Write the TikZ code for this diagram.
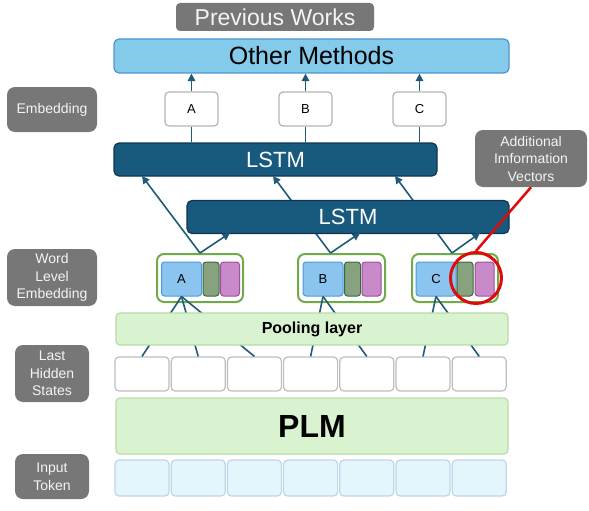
\documentclass[tikz,border=0pt]{standalone}
\usepackage{fontspec}
\setmainfont{Liberation Sans}
\usetikzlibrary{arrows.meta}

\definecolor{gris}{HTML}{777777}
\definecolor{blanco}{HTML}{F4F4F4}
\definecolor{celesteotros}{HTML}{83CAEB}
\definecolor{bordeotros}{HTML}{4E95D0}
\definecolor{lstm}{HTML}{185A7E}
\definecolor{bordelstm}{HTML}{0E3650}
\definecolor{azulflecha}{HTML}{1F5A7A}
\definecolor{bordecaja}{HTML}{B4B4B4}
\definecolor{verdegrupo}{HTML}{6FAB4A}
\definecolor{azul}{HTML}{8AC4EF}
\definecolor{bordeazul}{HTML}{4C9BDD}
\definecolor{verdevec}{HTML}{86A27F}
\definecolor{bordeverde}{HTML}{3C6A36}
\definecolor{rosa}{HTML}{C98AC9}
\definecolor{borderosa}{HTML}{A24CA2}
\definecolor{verdeplm}{HTML}{D9F2D0}
\definecolor{bordeplm}{HTML}{B7DCA7}
\definecolor{bordeoculto}{HTML}{BEBEBE}
\definecolor{celeste}{HTML}{E5F5FC}
\definecolor{bordetoken}{HTML}{BDD6E8}
\definecolor{rojo}{HTML}{E00A0A}

\tikzset{
  etiqueta/.style={fill=gris, text=blanco, rounded corners=8pt, inner sep=0pt,
    align=center, font=\fontsize{14}{17.5}\selectfont},
  caja/.style={draw=bordecaja, fill=white, line width=1.2pt, rounded corners=4pt,
    inner sep=0pt, minimum width=53pt, minimum height=34pt,
    font=\fontsize{13}{15}\selectfont},
  capa/.style={draw=bordelstm, fill=lstm, line width=1.2pt, rounded corners=5pt,
    inner sep=0pt, minimum width=322pt, minimum height=33pt, text=white,
    font=\fontsize{22}{26}\selectfont},
  grupo/.style={draw=verdegrupo, fill=white, line width=2pt, rounded corners=7pt,
    inner sep=0pt, minimum width=86pt, minimum height=48pt},
  vecazul/.style={draw=bordeazul, fill=azul, line width=1pt, rounded corners=3pt,
    inner sep=0pt, minimum width=40pt, minimum height=34pt,
    font=\fontsize{13}{15}\selectfont},
  vecverde/.style={draw=bordeverde, fill=verdevec, line width=1pt, rounded corners=3pt,
    inner sep=0pt, minimum width=16pt, minimum height=34pt},
  vecrosa/.style={draw=borderosa, fill=rosa, line width=1pt, rounded corners=3pt,
    inner sep=0pt, minimum width=19pt, minimum height=34pt},
  plm/.style={draw=bordeplm, fill=verdeplm, line width=1.2pt, rounded corners=4pt,
    inner sep=0pt, minimum width=392pt},
  oculto/.style={draw=bordeoculto, fill=white, line width=1.2pt, rounded corners=4pt,
    inner sep=0pt, minimum width=54pt, minimum height=34pt},
  token/.style={draw=bordetoken, fill=celeste, line width=1.2pt, rounded corners=4pt,
    inner sep=0pt, minimum width=54pt, minimum height=36pt},
  trazo/.style={draw=azulflecha, line width=1.6pt},
  flecha/.style={trazo, -{Triangle[length=7.5pt,width=7.5pt]}},
}

\begin{document}
\begin{tikzpicture}[x=1pt,y=-1pt]
        \useasboundingbox (0,0) rectangle (589,511);

        % Paso 1: Etiquetas grises de la izquierda
        \node[etiqueta, minimum width=90pt, minimum height=45pt] (lemb) at (52,109.5) {Embedding};
        \node[etiqueta, minimum width=90pt, minimum height=57pt] (lword) at (52,277.5) {Word\\Level\\Embedding};
        \node[etiqueta, minimum width=74pt, minimum height=57pt] (lhid) at (52,373.5) {Last\\Hidden\\States};
        \node[etiqueta, minimum width=74pt, minimum height=45pt] (lin) at (52,476.5) {Input\\Token};

        % Paso 2: Parte superior (trabajos previos)
        \node[etiqueta, rounded corners=4pt, minimum width=198pt, minimum height=28pt,
          font=\fontsize{23}{27}\selectfont] (prev) at (275,17) {Previous Works};
        \node[draw=bordeotros, fill=celesteotros, line width=1.2pt, rounded corners=5pt,
          inner sep=0pt, minimum width=395pt, minimum height=34pt,
          font=\fontsize{25}{29}\selectfont] (otros) at (311.5,56) {Other Methods};

        % Paso 3: Cajas de embedding A, B, C
        \node[caja] (embA) at (191.5,109) {A};
        \node[caja] (embB) at (305.5,109) {B};
        \node[caja] (embC) at (419.5,109) {C};
        \draw[flecha] (embA.north) -- (embA.north |- otros.south);
        \draw[flecha] (embB.north) -- (embB.north |- otros.south);
        \draw[flecha] (embC.north) -- (embC.north |- otros.south);

        % Paso 4: Primera capa LSTM
        \node[capa, minimum width=323pt] (lstm1) at (275.5,159.5) {LSTM};
        \draw[trazo] (embA.south) -- (embA.south |- lstm1.north);
        \draw[trazo] (embB.south) -- (embB.south |- lstm1.north);
        \draw[trazo] (embC.south) -- (embC.south |- lstm1.north);

        % Paso 5: Embeddings a nivel de palabra
        \node[grupo] (grpA) at (200,278) {};
        \node[grupo, minimum width=87pt] (grpB) at (341.5,278) {};
        \node[grupo] (grpC) at (455,278) {};
        \node[vecazul] (azulA) at (181.5,279) {A};
        \node[vecverde] (verdeA) at (211,279) {};
        \node[vecrosa] (rosaA) at (230,279) {};
        \node[vecazul] (azulB) at (323,279) {B};
        \node[vecverde] (verdeB) at (352.5,279) {};
        \node[vecrosa] (rosaB) at (371.5,279) {};
        \node[vecazul] (azulC) at (436,279) {C};
        \node[vecverde] (verdeC) at (465,279) {};
        \node[vecrosa] (rosaC) at (484.5,279) {};

        % Paso 6: Flechas hacia la primera LSTM (pasan por detras de la segunda)
        \coordinate (l1A) at (142,176);
        \coordinate (l1B) at (273,176);
        \coordinate (l1C) at (395,176);
        \draw[flecha] (grpA.north) -- (l1A);
        \draw[flecha] ([xshift=-11pt]grpB.north) -- (l1B);
        \draw[flecha] ([xshift=-3pt]grpC.north) -- (l1C);

        % Paso 7: Segunda capa LSTM y sus flechas
        \node[capa] (lstm2) at (348,217) {LSTM};
        \coordinate (l2A) at (230,233);
        \coordinate (l2B) at (360,233);
        \coordinate (l2C) at (480,233);
        \draw[flecha] (grpA.north) -- (l2A);
        \draw[flecha] ([xshift=-11pt]grpB.north) -- (l2B);
        \draw[flecha] ([xshift=-3pt]grpC.north) -- (l2C);

        % Paso 8: Vectores de informacion adicional
        \node[etiqueta, minimum width=112pt, minimum height=57pt] (info) at (531,158.5)
          {Additional\\Imformation\\Vectors};
        \node[circle, draw=rojo, line width=3pt, inner sep=0pt, minimum size=51pt] (circ) at (476,278) {};
        \draw[rojo, line width=2.5pt] (circ.north) -- (info.south);

        % Paso 9: Estados ocultos y tokens de entrada
        \foreach \i in {1,...,7} {
          \node[oculto] (h\i) at ({142+56.2*(\i-1)},374) {};
          \node[token] (t\i) at ({142+56.2*(\i-1)},478) {};
        }
        \draw[trazo] (h1.north) -- (azulA.south);
        \draw[trazo] (h2.north) -- (azulA.south);
        \draw[trazo] (h3.north) -- (azulA.south);
        \draw[trazo] (h4.north) -- (azulB.south);
        \draw[trazo] (h5.north) -- (azulB.south);
        \draw[trazo] (h6.north) -- (azulC.south);
        \draw[trazo] (h7.north) -- (azulC.south);

        % Paso 10: Capa de pooling y PLM
        \node[plm, minimum height=32pt, font=\fontsize{16}{19}\selectfont\bfseries] (pool) at (312,329) {Pooling layer};
        \node[plm, minimum height=56pt, font=\fontsize{32}{36}\selectfont\bfseries] (plmbox) at (312,426) {PLM};
\end{tikzpicture}
\end{document}
